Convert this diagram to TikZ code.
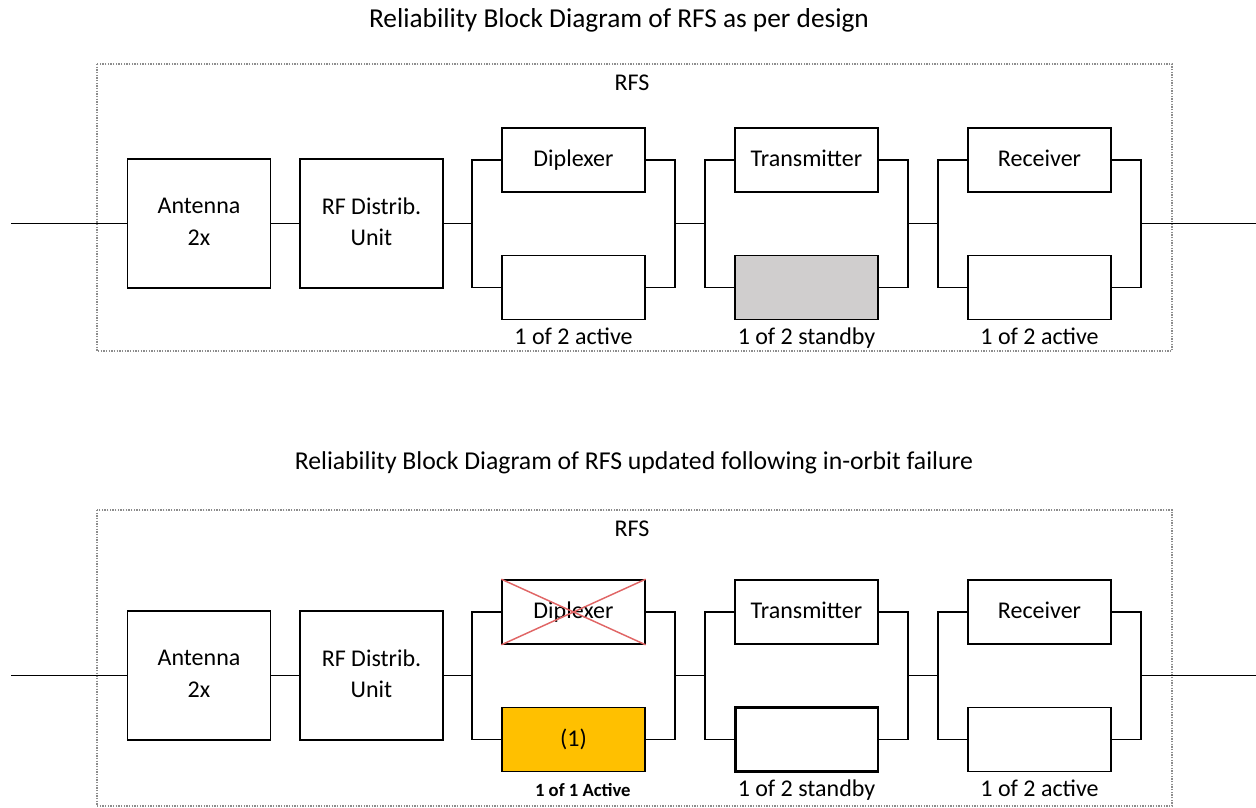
\documentclass[tikz,border=0pt]{standalone}
\usepackage{fontspec}
\setmainfont{Carlito}
\usetikzlibrary{positioning}
\definecolor{FrameGrey}{HTML}{8C8C8C}
\definecolor{StandbyGrey}{HTML}{D0CECE}
\definecolor{SpareAmber}{HTML}{FFC000}
\definecolor{CrossRed}{HTML}{E06666}

\begin{document}
\begin{tikzpicture}[x=0.75pt, y=-0.75pt,
      every node/.style={font=\fontsize{18}{21}\selectfont},
      heading/.style={font=\fontsize{20}{24}\selectfont},
      frame/.style={draw=FrameGrey, line width=1pt, densely dotted},
      blk/.style={draw, line width=1.2pt, minimum width=107pt, minimum height=48pt,
                  align=center, text depth=.25em, font=\fontsize{18}{23.5}\selectfont},
      big/.style={blk, minimum height=97pt},
      idle/.style={blk, fill=StandbyGrey},
      spare/.style={blk, fill=SpareAmber},
      heavy/.style={blk, line width=2pt},
      wire/.style={line width=1.2pt},
      cross/.style={draw=CrossRed, line width=1.1pt},
      tag/.style={font=\fontsize{18}{21}\selectfont, text depth=.25em}]
    \clip (0,0) rectangle (1256,807);
    % both panels share the same chain
    \foreach \p/\dy/\fy/\fb/\diptyp/\diptxt/\txtyp in
        {a/0/0/351/blk/{}/idle, b/452/446/360/spare/{(1)}/heavy}{
      \begin{scope}[shift={(0,\fy)}]
        \draw[frame] (97,64) rectangle (1172,\fb);
        \node (\p-rfs) at (632,83) {RFS};
      \end{scope}
      \begin{scope}[shift={(0,\dy)}]
        \node[big] (\p-ant) at (199,223.5) {Antenna\\2x};
        \node[big] (\p-rfu) at (371.5,223.5) {RF Distrib.\\Unit};
        \node[blk] (\p-dip1) at (573.5,160) {Diplexer};
        \node[\diptyp] (\p-dip2) at (573.5,287.5) {\diptxt};
        \node[blk] (\p-tx1) at (806.5,160) {Transmitter};
        \node[\txtyp] (\p-tx2) at (806.5,287.5) {};
        \node[blk] (\p-rx1) at (1039.5,160) {Receiver};
        \node[blk] (\p-rx2) at (1039.5,287.5) {};
        \coordinate (\p-in) at (11,223.5);
        \coordinate (\p-ds) at (472,223.5);
        \coordinate (\p-dj) at (675,223.5);
        \coordinate (\p-ts) at (705,223.5);
        \coordinate (\p-tj) at (908,223.5);
        \coordinate (\p-rs) at (938,223.5);
        \coordinate (\p-rj) at (1141,223.5);
        \coordinate (\p-out) at (1256,223.5);
        \draw[wire] (\p-in) -- (\p-ant);
        \draw[wire] (\p-ant) -- (\p-rfu);
        \draw[wire] (\p-rfu) -- (\p-ds);
        \draw[wire] (\p-dip1.west) -| (\p-ds) |- (\p-dip2.west);
        \draw[wire] (\p-dip1.east) -| (\p-dj) |- (\p-dip2.east);
        \draw[wire] (\p-dj) -- (\p-ts);
        \draw[wire] (\p-tx1.west) -| (\p-ts) |- (\p-tx2.west);
        \draw[wire] (\p-tx1.east) -| (\p-tj) |- (\p-tx2.east);
        \draw[wire] (\p-tj) -- (\p-rs);
        \draw[wire] (\p-rx1.west) -| (\p-rs) |- (\p-rx2.west);
        \draw[wire] (\p-rx1.east) -| (\p-rj) |- (\p-rx2.east);
        \draw[wire] (\p-rj) -- (\p-out);
        \node[tag, below=2pt of \p-tx2] (\p-txlab) {1 of 2 standby};
        \node[tag, below=2pt of \p-rx2] (\p-rxlab) {1 of 2 active};
      \end{scope}
    }
    \node[heading, font=\fontsize{20.5}{24}\selectfont] (a-title) at (619,20) {Reliability Block Diagram of RFS as per design};
    \node[heading, font=\fontsize{19.3}{23}\selectfont] (b-title) at (634,463) {Reliability Block Diagram of RFS updated following in-orbit failure};
    \node[tag, below=2pt of a-dip2] (a-diplab) {1 of 2 active};
    \node[font=\fontsize{14}{16}\selectfont\bfseries, below=5pt of b-dip2, xshift=7pt] (b-diplab) {1 of 1 Active};
    \draw[cross] (b-dip1.north west) -- (b-dip1.south east)
                 (b-dip1.north east) -- (b-dip1.south west);
  \end{tikzpicture}
\end{document}
